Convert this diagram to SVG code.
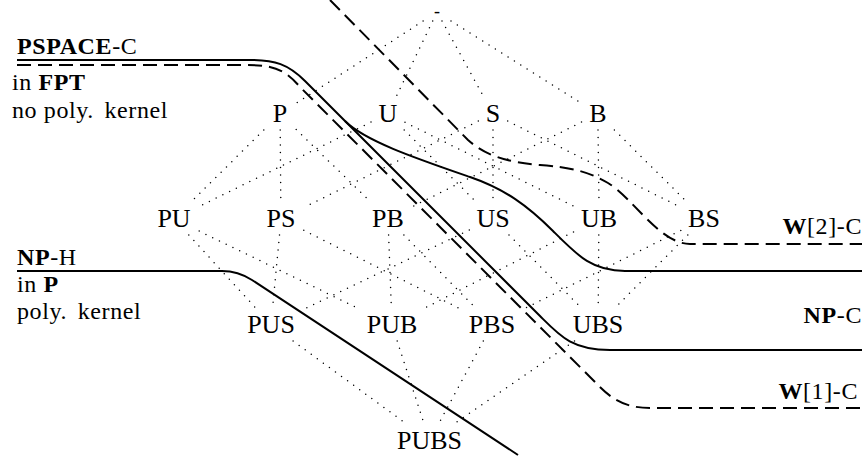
<svg xmlns="http://www.w3.org/2000/svg" width="865" height="458" viewBox="0 0 865 458">
<style>
text { font-family: 'Liberation Serif', 'DejaVu Serif', 'Times New Roman', serif; font-size: 26px; fill: #000; }
.side { font-size: 24px; letter-spacing: 0.6px; }
.n { text-anchor: middle; }
.r { text-anchor: end; }
.b { font-weight: bold; }
.e { fill: none; stroke: #000; stroke-width: 1.5; stroke-linecap: round; stroke-dasharray: 0 7.5; }
.s { fill: none; stroke: #000; stroke-width: 2; }
.d { fill: none; stroke: #000; stroke-width: 2; stroke-dasharray: 14 7; }
</style>
<rect width="865" height="458" fill="#fff"/>
<g id="connectors">
<line class="e" x1="423.1" y1="21" x2="296.2" y2="103.3"/>
<line class="e" x1="432.7" y1="21" x2="395.8" y2="97.6"/>
<line class="e" x1="442" y1="21" x2="484.1" y2="97.6"/>
<line class="e" x1="451" y1="21" x2="581.5" y2="103.4"/>
<line class="e" x1="263.8" y1="130" x2="190.4" y2="202.6"/>
<line class="e" x1="280.2" y1="130" x2="280.8" y2="202.6"/>
<line class="e" x1="296.2" y1="129.5" x2="371.3" y2="202.6"/>
<line class="e" x1="371" y1="122.1" x2="199.2" y2="206.4"/>
<line class="e" x1="404.2" y1="130" x2="476.8" y2="202.6"/>
<line class="e" x1="405" y1="122.3" x2="573.5" y2="206.1"/>
<line class="e" x1="478.3" y1="121.1" x2="303.8" y2="207.5"/>
<line class="e" x1="493" y1="130" x2="493" y2="202.6"/>
<line class="e" x1="507.7" y1="121.1" x2="680.8" y2="207.3"/>
<line class="e" x1="581.5" y1="122.1" x2="412.7" y2="206.5"/>
<line class="e" x1="598" y1="130" x2="599" y2="202.6"/>
<line class="e" x1="614.4" y1="130" x2="687.6" y2="202.6"/>
<line class="e" x1="188.8" y1="235" x2="256.2" y2="308.6"/>
<line class="e" x1="199.2" y1="231.1" x2="358.7" y2="308.6"/>
<line class="e" x1="279.5" y1="235" x2="272.5" y2="308.6"/>
<line class="e" x1="303.8" y1="230.3" x2="460.7" y2="309.1"/>
<line class="e" x1="388.6" y1="235" x2="391.4" y2="308.6"/>
<line class="e" x1="403.9" y1="235" x2="476.1" y2="308.6"/>
<line class="e" x1="469.3" y1="230.1" x2="302.8" y2="309.6"/>
<line class="e" x1="509" y1="235" x2="582" y2="308.6"/>
<line class="e" x1="573.5" y1="231.9" x2="423.6" y2="308.6"/>
<line class="e" x1="598.8" y1="235" x2="598.2" y2="308.6"/>
<line class="e" x1="680.8" y1="230.4" x2="523.3" y2="309.2"/>
<line class="e" x1="687.8" y1="235" x2="614.2" y2="308.6"/>
<line class="e" x1="293.1" y1="341" x2="407.4" y2="424.6"/>
<line class="e" x1="397.2" y1="341" x2="424.3" y2="424.6"/>
<line class="e" x1="483.3" y1="341" x2="438.2" y2="424.6"/>
<line class="e" x1="574.5" y1="341" x2="453" y2="424.6"/>
</g>
<g id="boundaries">
<path class="s" d="M17,60 H250 C275,60 288,64 305,81 L540,316 C560,336 572,350 610,350 H862"/>
<path class="d" d="M17,65 H247 C272,65 285,69 300,87 L590,377 C606,393 618,408 650,408 H862"/>
<path class="s" d="M345,121 C365,141 415,158 470,177 C505,189 528,206 553,231 C578,256 592,271 625,271 H862"/>
<path class="d" d="M330,0 L468,140 C485,155 505,162 540,165 C568,167 588,171 608,183 C633,198 660,244 690,244 H862"/>
<path class="s" d="M17,271 H222 Q238,271 252,280 L518,455"/>
</g>
<g id="labels">
<text class="side" x="17" y="54"><tspan class="b">PSPACE</tspan>-C</text>
<text class="side" x="12" y="90">in <tspan class="b">FPT</tspan></text>
<text class="side" x="12" y="118">no poly.<tspan dx="4"> kernel</tspan></text>
<text class="side" x="17" y="265"><tspan class="b">NP</tspan>-H</text>
<text class="side" x="17" y="292">in <tspan class="b">P</tspan></text>
<text class="side" x="17" y="319">poly.<tspan dx="4"> kernel</tspan></text>
<text class="side r" x="862" y="234"><tspan class="b">W</tspan>[2]-C</text>
<text class="side r" x="862" y="323"><tspan class="b">NP</tspan>-C</text>
<text class="side r" x="858" y="399"><tspan class="b">W</tspan>[1]-C</text>
</g>
<g id="nodes">
<g id="node-empty"><text class="n" x="437" y="16.5" style="font-size:18px">-</text></g>
<g id="node-P"><text class="n" x="280" y="122">P</text></g>
<g id="node-U"><text class="n" x="388" y="122">U</text></g>
<g id="node-S"><text class="n" x="493" y="122">S</text></g>
<g id="node-B"><text class="n" x="598" y="122">B</text></g>
<g id="node-PU"><text class="n" x="174" y="227">PU</text></g>
<g id="node-PS"><text class="n" x="281" y="227">PS</text></g>
<g id="node-PB"><text class="n" x="388" y="227">PB</text></g>
<g id="node-US"><text class="n" x="493" y="227">US</text></g>
<g id="node-UB"><text class="n" x="599" y="227">UB</text></g>
<g id="node-BS"><text class="n" x="704" y="227">BS</text></g>
<g id="node-PUS"><text class="n" x="271" y="333">PUS</text></g>
<g id="node-PUB"><text class="n" x="392" y="333">PUB</text></g>
<g id="node-PBS"><text class="n" x="492" y="333">PBS</text></g>
<g id="node-UBS"><text class="n" x="598" y="333">UBS</text></g>
<g id="node-PUBS"><text class="n" x="429.5" y="449">PUBS</text></g>
</g>
</svg>
